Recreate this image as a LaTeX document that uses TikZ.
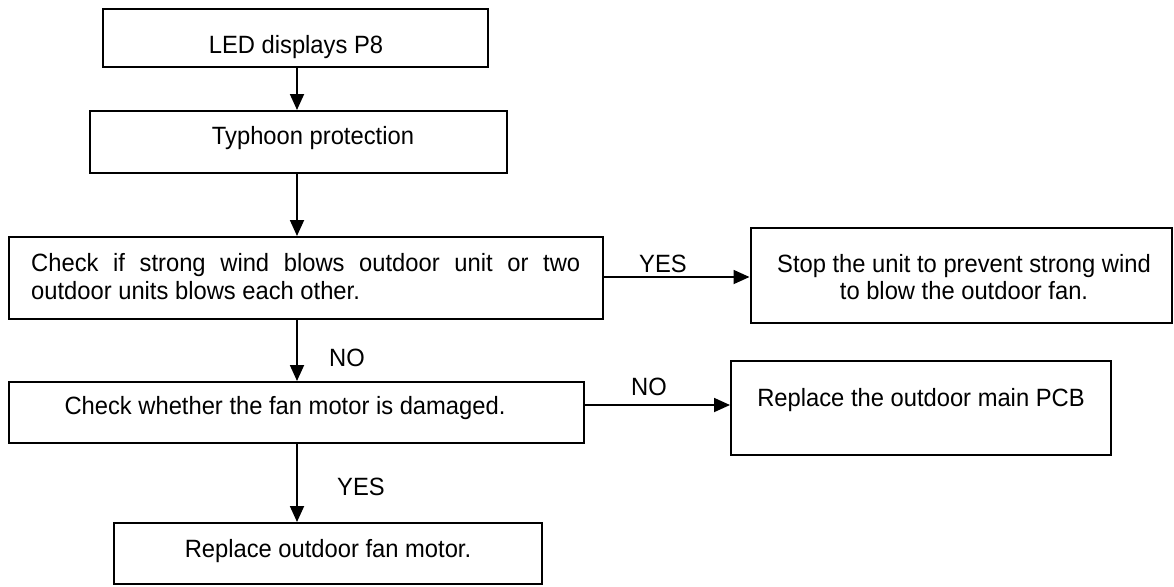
\documentclass[tikz,border=0pt]{standalone}
\usepackage{fontspec}
\setmainfont{Liberation Sans}[FakeStretch=0.95]
\usetikzlibrary{arrows.meta}
\begin{document}
\begin{tikzpicture}[x=1pt,y=-1pt,
  box/.style={draw=black, line width=2pt, inner sep=0pt, fill=white},
  txt/.style={inner sep=0pt, anchor=base, font=\fontsize{25}{28}\selectfont},
  txtl/.style={txt, anchor=base west},
  flow/.style={draw=black, line width=1.8pt, -{Triangle[length=16pt,width=14pt]}}]
\useasboundingbox (0,0) rectangle (1174,586);
\fill[white] (0,0) rectangle (1174,586);
% boxes
\node[box, minimum width=385pt, minimum height=58pt] (b1) at (295.5,38) {};
\node[box, minimum width=417pt, minimum height=62pt] (b2) at (298.5,142) {};
\node[box, minimum width=594pt, minimum height=82pt] (b3) at (306,278) {};
\node[box, minimum width=421pt, minimum height=95pt] (b4) at (961,275.5) {};
\node[box, minimum width=575pt, minimum height=61pt] (b5) at (296.5,412.5) {};
\node[box, minimum width=380pt, minimum height=94pt] (b6) at (921,408) {};
\node[box, minimum width=428pt, minimum height=61pt] (b7) at (328,553.5) {};
% texts
\node[txt] (t1) at (296,53) {LED displays P8};
\node[txt] (t2) at (313,144) {Typhoon protection};
\node[txtl] (t3a) at (31,271) {\makebox[549pt][s]{Check if strong wind blows outdoor unit or two}};
\node[txtl] (t3b) at (31,299) {outdoor units blows each other.};
\node[txt] (t4a) at (964,272) {Stop the unit to prevent strong wind};
\node[txt] (t4b) at (964,299) {to blow the outdoor fan.};
\node[txt] (t5) at (285,414) {Check whether the fan motor is damaged.};
\node[txt] (t6) at (921,406) {Replace the outdoor main PCB};
\node[txt] (t7) at (328,557) {Replace outdoor fan motor.};
% connector guides
\coordinate (ax) at (297,0);
\coordinate (ay5) at (0,405);
\coordinate (ay3) at (0,277);
% connectors
\draw[flow] (b1.south -| ax) -- (b2.north -| ax);
\draw[flow] (b2.south -| ax) -- (b3.north -| ax);
\draw[flow] (b3.south -| ax) -- (b5.north -| ax);
\draw[flow] (b5.south -| ax) -- (b7.north -| ax);
\draw[flow] (b3.east |- ay3) -- (b4.west |- ay3);
\draw[flow] (b5.east |- ay5) -- (b6.west |- ay5);
% labels
\node[txtl] (l1) at (639,272) {YES};
\node[txtl] (l2) at (329,366) {NO};
\node[txtl] (l3) at (631,395) {NO};
\node[txtl] (l4) at (337,495) {YES};
\end{tikzpicture}
\end{document}
